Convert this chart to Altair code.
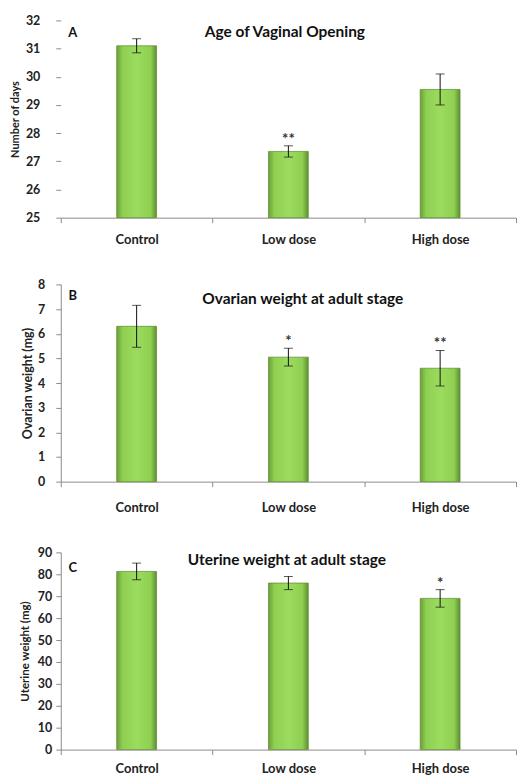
import altair as alt
import pandas as pd

# Treatment groups shared by all three panels
groups = ["Control", "Low dose", "High dose"]

# A: age of vaginal opening (days), mean and SE
vo_mean = [31.1, 27.35, 29.55]
vo_err = [0.25, 0.2, 0.55]
vo_sig = ["", "**", ""]

# B: ovarian weight at adult stage (mg)
ov_mean = [6.3, 5.05, 4.6]
ov_err = [0.85, 0.36, 0.72]
ov_sig = ["", "*", "**"]

# C: uterine weight at adult stage (mg)
ut_mean = [81.3, 76.0, 69.0]
ut_err = [3.8, 3.0, 4.0]
ut_sig = ["", "", "*"]

FONT = "Lato"
AXIS_GREY = "#8c8c8c"
PLOT_W = 457

bar_fill = alt.Gradient(
    gradient="linear",
    x1=0, x2=1, y1=0, y2=0,
    stops=[
        alt.GradientStop(color="#6c9f38", offset=0),
        alt.GradientStop(color="#8fcf52", offset=0.15),
        alt.GradientStop(color="#9bdb5e", offset=0.5),
        alt.GradientStop(color="#8fcf52", offset=0.85),
        alt.GradientStop(color="#5f8f30", offset=1),
    ],
)


def panel(means, errs, sig, domain, ticks, letter, title, ytitle,
          show_domain, y_label_pad, y_title_x, y_title_size, x_label_pad,
          title_pos, letter_pos):
    df = pd.DataFrame({"group": groups, "mean": means, "err": errs, "sig": sig})
    base = alt.Chart(df).transform_calculate(
        lo="datum.mean - datum.err", hi="datum.mean + datum.err"
    )

    x = alt.X(
        "group:N", sort=groups, title=None,
        scale=alt.Scale(paddingInner=0, paddingOuter=0),
        axis=alt.Axis(
            labelAngle=0, labelFont=FONT, labelFontSize=13, labelFontWeight="bold",
            labelColor="#222", labelPadding=x_label_pad, tickBand="extent",
            tickSize=5, tickColor=AXIS_GREY, domainColor=AXIS_GREY,
        ),
    )
    yscale = alt.Scale(domain=domain, nice=False, zero=False)
    yaxis = alt.Axis(
        values=ticks, grid=False, domain=show_domain, domainColor=AXIS_GREY,
        tickColor=AXIS_GREY, tickSize=5, labelFont=FONT, labelFontSize=12.5,
        labelFontWeight="bold", labelColor="#222", labelPadding=y_label_pad,
        labelOverlap=False, labelBound=False, labelFlush=False,
        titleFont=FONT, titleFontSize=y_title_size, titleFontWeight="bold",
        titleColor="#222", titleX=y_title_x, titleBaseline="middle",
    )

    def yq(field):
        return alt.Y(field, scale=yscale, axis=yaxis, title=ytitle, stack=None)

    bars = base.mark_bar(size=40, fill=bar_fill, stroke="#5b8a2d",
                         strokeWidth=0.7).encode(x=x, y=yq("mean:Q"),
                                                 y2=alt.datum(domain[0]))
    stem = base.mark_rule(color="#111", strokeWidth=1).encode(
        x=x, y=yq("lo:Q"), y2="hi:Q")
    cap_lo = base.mark_tick(color="#111", thickness=1, size=9,
                            orient="horizontal").encode(x=x, y=yq("lo:Q"))
    cap_hi = base.mark_tick(color="#111", thickness=1, size=9,
                            orient="horizontal").encode(x=x, y=yq("hi:Q"))
    stars = base.mark_text(font=FONT, fontSize=15, fontWeight="bold",
                           color="#333", baseline="middle", dy=-7).encode(
        x=x, y=yq("hi:Q"), text="sig:N")

    heading = alt.Chart(pd.DataFrame({"t": [title]})).mark_text(
        font=FONT, fontSize=15.5, fontWeight="bold", color="#111",
        baseline="middle", align="center",
    ).encode(x=alt.value(title_pos[0]), y=alt.value(title_pos[1]), text="t:N")
    tag = alt.Chart(pd.DataFrame({"t": [letter]})).mark_text(
        font=FONT, fontSize=13, fontWeight="bold", color="#111",
        baseline="middle", align="center",
    ).encode(x=alt.value(letter_pos[0]), y=alt.value(letter_pos[1]), text="t:N")

    return alt.layer(bars, stem, cap_lo, cap_hi, stars, heading, tag).properties(
        width=PLOT_W, height=198)


pa = panel(vo_mean, vo_err, vo_sig, [25, 32], list(range(25, 33)), "A",
           "Age of Vaginal Opening", "Number of days",
           False, 16, -45, 11, 11, (225, 12), (12, 13))
pb = panel(ov_mean, ov_err, ov_sig, [0, 8], list(range(0, 9)), "B",
           "Ovarian weight at adult stage", "Ovarian weight (mg)",
           True, 11, -33, 12.5, 15, (243, 15), (12, 12))
pc = panel(ut_mean, ut_err, ut_sig, [0, 90], list(range(0, 91, 10)), "C",
           "Uterine weight at adult stage", "Uterine weight (mg)",
           True, 4, -35, 11.5, 8, (227, 8), (12, 16))

chart = alt.vconcat(pa, pb, pc, spacing=32).properties(
    padding={"left": 10, "top": 13, "right": 0, "bottom": 0},
    background="white",
).configure_view(stroke=None)

chart.save("out.html", embed_options={"renderer": "svg", "actions": False})
